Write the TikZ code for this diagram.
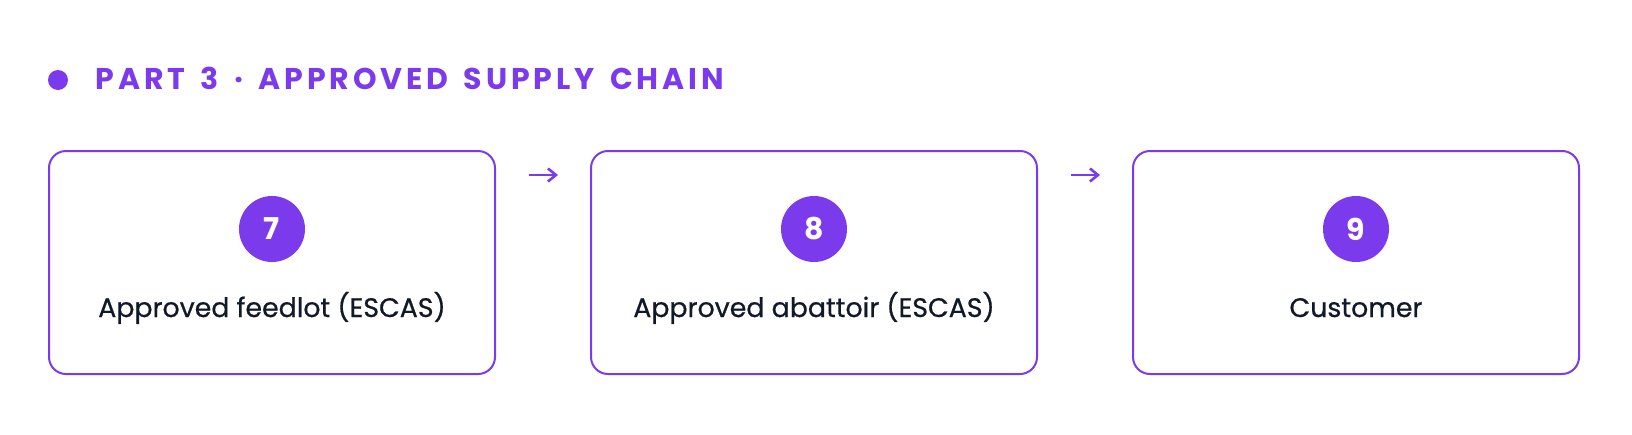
\documentclass[tikz,border=0pt]{standalone}
\usepackage{fontspec}
\setmainfont{Poppins}
\newfontfamily\headfont[LetterSpace=13,WordSpace=1.5]{Poppins}
\newfontfamily\stagefont[FakeBold=0.6]{Poppins}
\usetikzlibrary{arrows.meta}
\definecolor{chainviolet}{HTML}{7C3AED}
\definecolor{chainink}{HTML}{111827}

\tikzset{
  stagebox/.style={draw=chainviolet,line width=1pt,rounded corners=8.5pt,
    minimum width=223pt,minimum height=111.5pt,inner sep=0pt},
  badge/.style={circle,fill=chainviolet,text=white,minimum size=33pt,inner sep=0pt,
    font=\fontsize{15}{15}\selectfont\bfseries},
  stagelabel/.style={anchor=base,text=chainink,font=\stagefont\fontsize{13.4}{16}\selectfont},
  flow/.style={draw=chainviolet,line width=1.3pt,-{Straight Barb[length=4pt,width=6.5pt]}}
}

\begin{document}
\begin{tikzpicture}[x=0.5pt,y=-0.5pt]
        \useasboundingbox (0,0) rectangle (1632,434);

        % heading
        \fill[chainviolet] (58,80) circle (10);
        \node[anchor=base west,inner sep=0pt,text=chainviolet,
          font=\headfont\fontsize{15}{15}\selectfont\bfseries] (heading) at (95,89)
          {PART 3 · APPROVED SUPPLY CHAIN};

        % stages
        \node[stagebox] (feedlot) at (272,262.5) {};
        \node[stagebox] (abattoir) at (814,262.5) {};
        \node[stagebox] (customer) at (1356,262.5) {};

        \node[badge] (n7) at (272,229) {7};
        \node[badge] (n8) at (814,229) {8};
        \node[badge] (n9) at (1356,229) {9};

        \node[stagelabel] (l7) at (272,317) {Approved feedlot (ESCAS)};
        \node[stagelabel] (l8) at (814,317) {Approved abattoir (ESCAS)};
        \node[stagelabel] (l9) at (1356,317) {Customer};

        % arrows between stages
        \coordinate (a1) at (529,175);
        \coordinate (b1) at (558,175);
        \coordinate (a2) at (1071,175);
        \coordinate (b2) at (1100,175);
        \draw[flow] (a1) -- (b1);
        \draw[flow] (a2) -- (b2);
    \end{tikzpicture}
\end{document}
